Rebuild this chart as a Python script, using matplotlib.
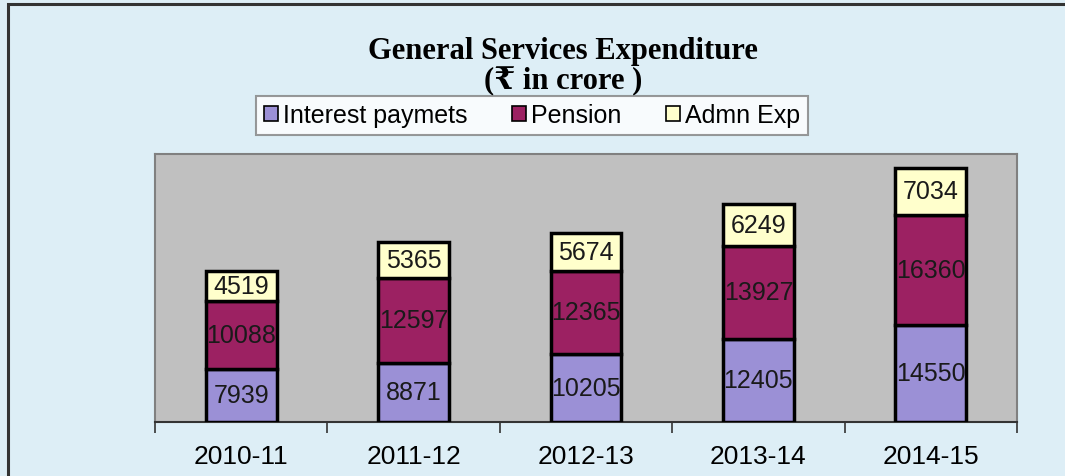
import numpy as np
import matplotlib
matplotlib.use('Agg')
import matplotlib.pyplot as plt
from matplotlib.patches import Rectangle

years = ['2010-11', '2011-12', '2012-13', '2013-14', '2014-15']
interest = [7939, 8871, 10205, 12405, 14550]
pension = [10088, 12597, 12365, 13927, 16360]
admn = [4519, 5365, 5674, 6249, 7034]
series_names = ['Interest paymets', 'Pension', 'Admn Exp']
series_colors = ['#9b90d6', '#9c2162', '#ffffcc']

fig = plt.figure(figsize=(10.65, 4.77), dpi=100)
fig.patch.set_facecolor('#ddeef6')

# outer frame of the chart object
fig.patches.append(Rectangle((8 / 1065, -0.05), 1.2, 1 - 5 / 477 + 0.05,
                             transform=fig.transFigure, fill=False,
                             edgecolor='#333333', linewidth=2.2))

ax = fig.add_axes([155 / 1065, 1 - 423 / 477, 862 / 1065, 268 / 477])
ax.set_facecolor('#c0c0c0')

x = np.arange(len(years))
bottoms = np.zeros(len(years))
for vals, name, col in zip([interest, pension, admn], series_names, series_colors):
    bars = ax.bar(x, vals, width=0.41, bottom=bottoms, color=col,
                  edgecolor='black', linewidth=2.5, label=name, zorder=3)
    for b, v in zip(bars, vals):
        ax.text(b.get_x() + b.get_width() / 2, b.get_y() + b.get_height() / 2,
                str(v), ha='center', va='center', fontsize=18,
                family='Liberation Sans', color='#1a1a1a', zorder=4)
    bottoms += np.array(vals)

ax.set_xlim(-0.5, len(years) - 0.5)
ax.set_ylim(0, 40000)
ax.set_yticks([])
ax.set_xticks(x)
ax.set_xticklabels(years, fontsize=19, family='Liberation Sans')
ax.set_xticks(np.arange(-0.5, len(years)), minor=True)
ax.tick_params(axis='x', which='major', length=0, pad=16)
ax.tick_params(axis='x', which='minor', length=8, width=1.2, color='#333333')

for side in ['top', 'right', 'left']:
    ax.spines[side].set_color('#808080')
    ax.spines[side].set_linewidth(1.5)
ax.spines['bottom'].set_color('#333333')
ax.spines['bottom'].set_linewidth(1.5)

fig.text(563 / 1065, 1 - 52 / 477, 'General Services Expenditure',
         ha='center', va='center', fontsize=22, fontweight='bold',
         family=['Liberation Serif', 'DejaVu Serif'])
fig.text(563 / 1065, 1 - 81 / 477, '(\u20b9 in crore )',
         ha='center', va='center', fontsize=22, fontweight='bold',
         family=['Liberation Serif', 'DejaVu Serif'])

leg = fig.legend(loc='center', bbox_to_anchor=(532 / 1065, 1 - 116 / 477),
                 ncol=3, frameon=True, fancybox=False,
                 prop={'family': 'Liberation Sans', 'size': 18},
                 handlelength=0.55, handleheight=0.55, handletextpad=0.2,
                 columnspacing=1.8, borderpad=0.3, borderaxespad=0)
leg.get_frame().set_edgecolor('#808080')
leg.get_frame().set_linewidth(1.5)
for h in leg.legend_handles:
    h.set_linewidth(1.2)

fig.savefig('out.png', dpi=100, facecolor=fig.get_facecolor())
